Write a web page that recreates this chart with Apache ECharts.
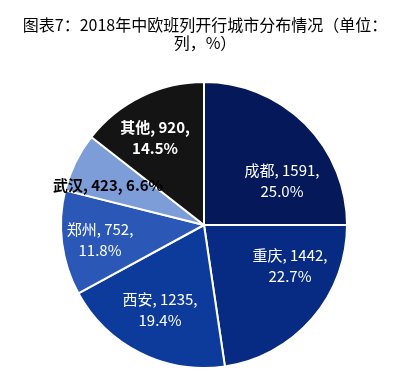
<!DOCTYPE html>
<html><head><meta charset="utf-8">
<script src="https://cdn.jsdelivr.net/npm/echarts@6/dist/echarts.min.js"></script>
<style>html,body{margin:0;padding:0;background:#fff}#c{width:410px;height:387px}</style>
</head><body><div id="c"></div>
<script>
var cities = ['成都','重庆','西安','郑州','武汉','其他'];
var trains = [1591,1442,1235,752,423,920];
var shares = ['25.0%','22.7%','19.4%','11.8%','6.6%','14.5%'];
var colors = ['#04185a','#072a82','#0d3b9c','#2b58b6','#7d9dd8','#141414'];
var labelPos = [[282,181],[290,266],[160,310],[100,240],[108,185],[155,138]];
var multiLine = [true,true,true,true,false,true];
var labelColor = ['#fff','#fff','#fff','#fff','#000','#fff'];
var labelBold = [false,false,false,false,true,true];

var chart = echarts.init(document.getElementById('c'));
var data = cities.map(function(c,i){
  return {
    name:c, value:trains[i],
    itemStyle:{color:colors[i]},
    label:{
      color:labelColor[i],
      fontWeight:labelBold[i]?'bold':'normal',
      formatter: c + ', ' + trains[i] + ',' + (multiLine[i]?'\n':' ') + shares[i]
    }
  };
});
chart.setOption({
  animation:false,
  title:{
    text:'图表7：2018年中欧班列开行城市分布情况（单位：\n列，%）',
    left:'center', top:11,
    textStyle:{fontSize:16,fontWeight:'normal',color:'#000',lineHeight:18,fontFamily:'Noto Sans CJK SC',align:'center'}
  },
  series:[{
    type:'pie',
    center:[204,225],
    radius:[0,143],
    startAngle:90,
    clockwise:true,
    itemStyle:{borderColor:'#fff',borderWidth:2},
    label:{position:'inside',fontSize:15,lineHeight:21,fontFamily:'Noto Sans CJK SC',align:'center'},
    labelLine:{show:false},
    labelLayout:function(p){
      return {x:labelPos[p.dataIndex][0], y:labelPos[p.dataIndex][1], align:'center', verticalAlign:'middle'};
    },
    data:data
  }]
});
</script></body></html>
